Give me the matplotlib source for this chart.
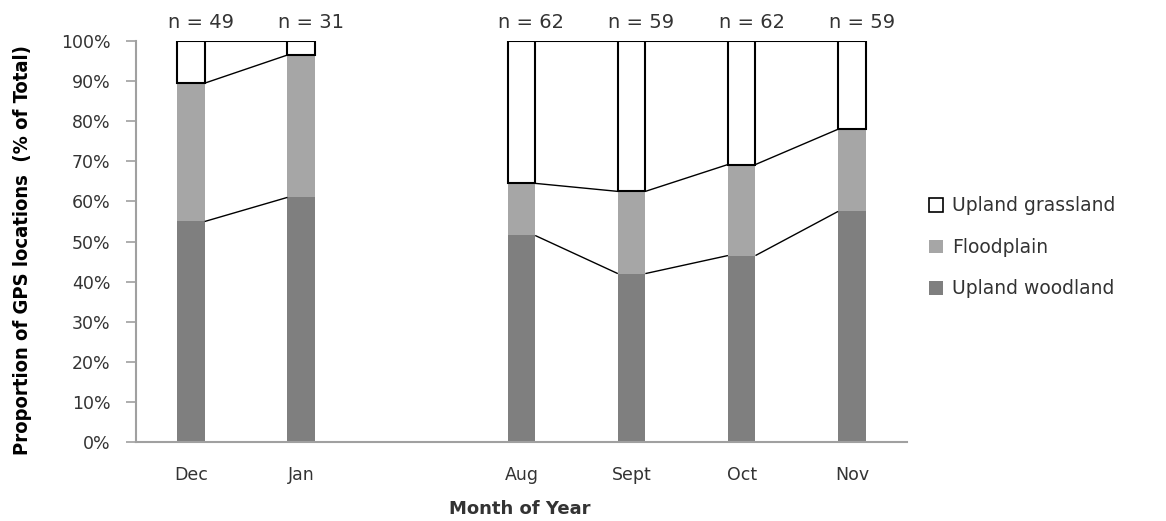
import matplotlib
matplotlib.use("Agg")
import matplotlib.pyplot as plt
from matplotlib.patches import Patch
from matplotlib.ticker import PercentFormatter, MultipleLocator

# ---- data ----
months = ["Dec", "Jan", "", "Aug", "Sept", "Oct", "Nov"]
n_labels = ["n = 49", "n = 31", "", "n = 62", "n = 59", "n = 62", "n = 59"]
woodland = [0.55, 0.61, None, 0.515, 0.42, 0.465, 0.575]
floodplain = [0.345, 0.355, None, 0.13, 0.205, 0.227, 0.205]
grassland = [0.105, 0.035, None, 0.355, 0.375, 0.308, 0.22]
series_names = ["Upland grassland", "Floodplain", "Upland woodland"]

c_wood = "#7f7f7f"
c_flood = "#a6a6a6"
text_col = "#333333"

fig = plt.figure(figsize=(11.66, 5.21), dpi=100)
ax = fig.add_axes([0.1166, 0.1516, 0.6612, 0.7697])

x = list(range(len(months)))
bw = 0.25
for i in x:
    if woodland[i] is None:
        continue
    w, f, g = woodland[i], floodplain[i], grassland[i]
    ax.bar(i, w, width=bw, color=c_wood, linewidth=0, zorder=2)
    ax.bar(i, f, bottom=w, width=bw, color=c_flood, linewidth=0, zorder=2)
    ax.bar(i, g, bottom=w + f, width=bw, facecolor="white", edgecolor="black",
           linewidth=1.5, zorder=3)
    ax.text(i + 0.09, 1.047, n_labels[i], ha="center", va="center",
            fontsize=14, color=text_col, clip_on=False)

# series lines between adjacent bars
for i in range(len(months) - 1):
    if woodland[i] is None or woodland[i + 1] is None:
        continue
    levels_a = [woodland[i], woodland[i] + floodplain[i],
                woodland[i] + floodplain[i] + grassland[i]]
    levels_b = [woodland[i + 1], woodland[i + 1] + floodplain[i + 1],
                woodland[i + 1] + floodplain[i + 1] + grassland[i + 1]]
    for k, (ya, yb) in enumerate(zip(levels_a, levels_b)):
        lw = 1.5 if k == 2 else 1.0
        ax.plot([i + bw / 2, i + 1 - bw / 2], [ya, yb], color="black",
                linewidth=lw, zorder=4, solid_capstyle="butt")

ax.set_xlim(-0.5, len(months) - 0.5)
ax.set_ylim(0, 1)
ax.set_xticks(x)
ax.set_xticklabels(months)
ax.yaxis.set_major_locator(MultipleLocator(0.1))
ax.yaxis.set_major_formatter(PercentFormatter(1.0, decimals=0))

for s in ["top", "right"]:
    ax.spines[s].set_visible(False)
for s in ["left", "bottom"]:
    ax.spines[s].set_color("#a0a0a0")
    ax.spines[s].set_linewidth(1.5)

ax.tick_params(axis="y", length=7.5, width=1.2, color="#a0a0a0", pad=11,
               labelsize=12.5, labelcolor=text_col)
ax.tick_params(axis="x", length=0, pad=17, labelsize=12.5, labelcolor=text_col)

fig.text(0.019, 0.52, "Proportion of GPS locations  (% of Total)", rotation=90,
         ha="center", va="center", fontsize=14.5, fontweight="bold",
         fontstretch="condensed", family="DejaVu Sans", color="black")
fig.text(0.446, 0.023, "Month of Year", ha="center", va="center",
         fontsize=13, fontweight="bold", color=text_col)

handles = [Patch(facecolor="white", edgecolor="black", linewidth=1.2),
           Patch(facecolor=c_flood, edgecolor="none"),
           Patch(facecolor=c_wood, edgecolor="none")]
leg = fig.legend(handles, series_names, loc="center left",
                 bbox_to_anchor=(0.782, 0.525), frameon=False, fontsize=13.5,
                 handlelength=0.75, handleheight=0.75, handletextpad=0.5,
                 labelspacing=1.2)
for t in leg.get_texts():
    t.set_color(text_col)

fig.savefig("out.png", dpi=100)
